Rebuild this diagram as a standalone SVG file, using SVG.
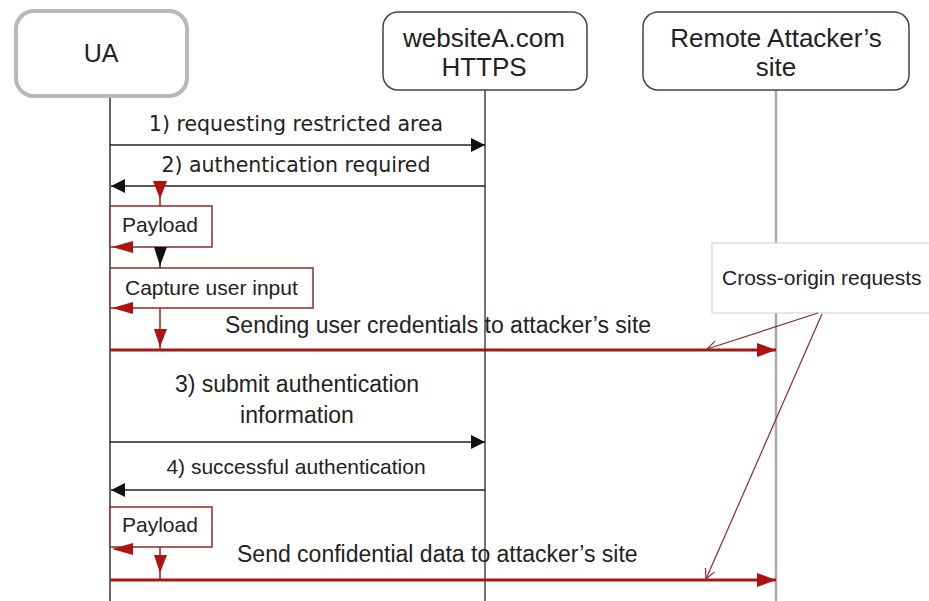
<svg xmlns="http://www.w3.org/2000/svg" width="929" height="601" viewBox="0 0 929 601">
<style>
.hdr{font-family:"Liberation Sans",Arial,sans-serif;font-size:26px;fill:#222;text-anchor:middle}
.m1{font-family:"DejaVu Sans",Verdana,sans-serif;font-size:20.5px;fill:#222;text-anchor:middle}
.lbl{font-family:"Liberation Sans",Arial,sans-serif;font-size:21px;fill:#222}
.big{font-family:"Liberation Sans",Arial,sans-serif;font-size:23px;fill:#222}
.blk{stroke:#222;stroke-width:1.5;fill:none}
.red{stroke:#a51818;stroke-width:3;fill:none}
.redthin{stroke:#a51818;stroke-width:1.5;fill:none}
.pbox{fill:#fff;stroke:#9b3434;stroke-width:1.6}
.rh{fill:#b01212}
.bh{fill:#111}
.xo{stroke:#8b2a2a;stroke-width:1.2;fill:none}
</style>
<defs>
<marker id="ab" markerUnits="userSpaceOnUse" markerWidth="15" markerHeight="14" refX="14" refY="7" orient="auto">
<path d="M0,0 L14,7 L0,14 z" fill="#111"/>
</marker>
<marker id="ar" markerUnits="userSpaceOnUse" markerWidth="20" markerHeight="14" refX="19" refY="7" orient="auto">
<path d="M0,0 L19,7 L0,14 z" fill="#b01212"/>
</marker>
<marker id="ao" markerUnits="userSpaceOnUse" markerWidth="12" markerHeight="12" refX="10" refY="6" orient="auto">
<path d="M0,1 L10,6 L0,11" fill="none" stroke="#8b2a2a" stroke-width="1.2"/>
</marker>
</defs>
<rect width="929" height="601" fill="#fff"/>

<g id="lifelines">
<line x1="110" y1="97" x2="110" y2="601" stroke="#333" stroke-width="1.5"/>
<line x1="485" y1="90" x2="485" y2="601" stroke="#444" stroke-width="1.5"/>
<line x1="776" y1="90" x2="776" y2="601" stroke="#a8a8a8" stroke-width="2.5"/>
</g>

<g id="ua">
<rect x="16" y="11" width="171" height="85" rx="18" fill="#fff" stroke="#b8b8b8" stroke-width="4"/>
<text class="hdr" x="101" y="62" style="font-size:25px">UA</text>
</g>
<g id="websiteA">
<rect x="383" y="12" width="204" height="78" rx="15" fill="#fff" stroke="#444" stroke-width="1.5"/>
<text class="hdr" x="484" y="47">websiteA.com</text>
<text class="hdr" x="484" y="76">HTTPS</text>
</g>
<g id="attacker">
<rect x="643" y="12" width="266" height="78" rx="15" fill="#fff" stroke="#444" stroke-width="1.5"/>
<text class="hdr" x="776" y="47">Remote Attacker’s</text>
<text class="hdr" x="776" y="76">site</text>
</g>

<g id="payload1">
<rect class="pbox" x="110" y="206" width="102" height="41"/>
<text class="lbl" x="122" y="232">Payload</text>
</g>
<g id="capture">
<rect class="pbox" x="110" y="268" width="203" height="40"/>
<text class="lbl" x="125" y="295">Capture user input</text>
</g>
<g id="payload2">
<rect class="pbox" x="110" y="507" width="102" height="40"/>
<text class="lbl" x="122" y="532">Payload</text>
</g>
<g id="crossorigin">
<rect x="712" y="243" width="225" height="70" fill="#fff" stroke="#d6d6d6" stroke-width="1.2"/>
<text class="lbl" x="722" y="285">Cross-origin requests</text>
</g>

<g id="connectors">
<!-- 1 -->
<line class="blk" x1="110" y1="145" x2="485" y2="145" marker-end="url(#ab)"/>
<text class="m1" x="296" y="131">1) requesting restricted area</text>
<!-- 2 -->
<line class="blk" x1="485" y1="186" x2="111" y2="186" marker-end="url(#ab)"/>
<text class="m1" x="296" y="172">2) authentication required</text>
<!-- red down to payload1 -->
<line class="redthin" x1="160" y1="181" x2="160" y2="206"/>
<polygon class="rh" points="153,181 167,181 160,199"/>
<!-- payload1 back to UA -->
<polygon class="rh" points="133,241 133,253 112,247"/>
<!-- black down to capture -->
<line class="blk" x1="160" y1="247" x2="160" y2="268"/>
<polygon class="bh" points="154,247 167,247 160,266"/>
<!-- capture back to UA -->
<polygon class="rh" points="133,302 133,314 112,308"/>
<!-- red down to send line -->
<line class="redthin" x1="160" y1="308" x2="160" y2="350"/>
<polygon class="rh" points="154,329 167,329 160,347"/>
<!-- sending credentials -->
<line class="red" x1="110" y1="350" x2="776" y2="350" marker-end="url(#ar)"/>
<text class="big" x="225" y="333">Sending user credentials to attacker’s site</text>
<!-- 3 -->
<line class="blk" x1="110" y1="442" x2="485" y2="442" marker-end="url(#ab)"/>
<text class="big" x="297" y="392" text-anchor="middle">3) submit authentication</text>
<text class="big" x="297" y="423" text-anchor="middle">information</text>
<!-- 4 -->
<line class="blk" x1="485" y1="490" x2="111" y2="490" marker-end="url(#ab)"/>
<text class="lbl" x="296" y="474" text-anchor="middle">4) successful authentication</text>
<!-- payload2 back to UA -->
<polygon class="rh" points="133,543 133,555 112,549"/>
<!-- red down to send line 2 -->
<line class="redthin" x1="160" y1="547" x2="160" y2="580"/>
<polygon class="rh" points="154,555 167,555 160,573"/>
<!-- send confidential -->
<line class="red" x1="110" y1="580" x2="776" y2="580" marker-end="url(#ar)"/>
<text class="big" x="237" y="562">Send confidential data to attacker’s site</text>
<!-- cross-origin pointers -->
<line class="xo" x1="818" y1="313" x2="707" y2="349" marker-end="url(#ao)"/>
<line class="xo" x1="822" y1="314" x2="706" y2="579" marker-end="url(#ao)"/>
</g>
</svg>
